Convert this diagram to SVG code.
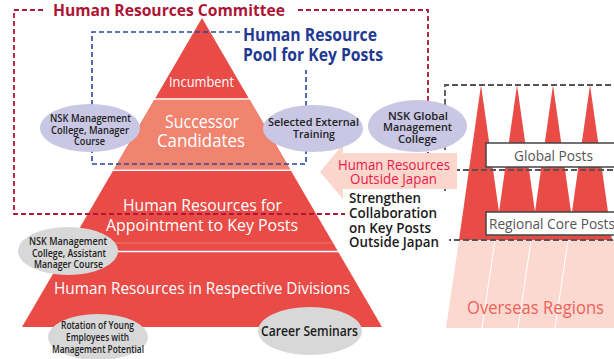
<svg xmlns="http://www.w3.org/2000/svg" width="614" height="359" viewBox="0 0 614 359">
<style>
text{font-family:"Open Sans","Noto Sans","Liberation Sans",sans-serif}
.w{fill:#ffffff}
.el{fill:#222222;font-size:10.5px;font-weight:600}
.lav{fill:#c9c7e4}
.gry{fill:#d8d8d8}
.red{fill:#e94b47}
.dr{fill:none;stroke:#b0163a;stroke-width:1.8;stroke-dasharray:5 3}
.db{fill:none;stroke:#2a469e;stroke-width:1.6;stroke-dasharray:5 3}
.dg{fill:none;stroke:#555555;stroke-width:1.8;stroke-dasharray:6 3}
.box{fill:#ffffff;stroke:#444444;stroke-width:1.5}
.post{fill:#555555;font-size:14.5px}
</style>
<g id="pyramid">
<polygon class="red" points="202,18 382,327 22,327"/>
<polygon fill="#f0846f" points="154.2,100 249.8,100 290.2,169.4 113.8,169.4"/>
<line x1="150" y1="99" x2="254" y2="99" stroke="#ffffff" stroke-width="1.5"/>
<line x1="110" y1="170.3" x2="294" y2="170.3" stroke="#ffffff" stroke-width="1.5"/>
<line x1="70.5" y1="243" x2="333.5" y2="243" stroke="#f27a6e" stroke-width="1"/>
<line x1="62" y1="251.5" x2="342" y2="251.5" stroke="#ffffff" stroke-width="1.3"/>
</g>
<g id="overseas">
<polygon fill="#fbd9d0" points="459,240 614,240 614,328 446,328"/>
<polygon class="red" points="481,85 503,240 459,240"/>
<polygon class="red" points="517,85 539,240 495,240"/>
<polygon class="red" points="553,85 575,240 531,240"/>
<polygon class="red" points="590,85 612,240 568,240"/>
<line x1="495" y1="240" x2="482" y2="328" stroke="#ffffff" stroke-width="1"/>
<line x1="531" y1="240" x2="518" y2="328" stroke="#ffffff" stroke-width="1"/>
<line x1="568" y1="240" x2="555" y2="328" stroke="#ffffff" stroke-width="1"/>
</g>
<g id="connectors">
<path class="dr" d="M43,10 H14 V214 H428 V10 H295"/>
<path class="db" d="M240,32 H92 V164 H306 V70"/>
<path class="dg" d="M445,240 V85 H614"/>
<path class="dg" d="M445,170 H614"/>
<path class="dg" d="M445,240 H614"/>
</g>
<g id="posts">
<rect class="box" x="486" y="143" width="140" height="24"/>
<text class="post" x="553.5" y="161" text-anchor="middle" textLength="79" lengthAdjust="spacingAndGlyphs">Global Posts</text>
<rect class="box" x="486" y="212" width="140" height="23"/>
<text class="post" x="489" y="229" textLength="126" lengthAdjust="spacingAndGlyphs">Regional Core Posts</text>
<text x="535.5" y="314" text-anchor="middle" fill="#f0625a" font-size="17.5" textLength="137" lengthAdjust="spacingAndGlyphs">Overseas Regions</text>
</g>
<g id="strengthen">
<rect x="345" y="191" width="104" height="65" fill="#ffffff"/>
<g fill="#1a1a1a" font-size="14.5" font-weight="600">
<text x="349" y="203" textLength="72" lengthAdjust="spacingAndGlyphs">Strengthen</text>
<text x="349" y="218" textLength="88" lengthAdjust="spacingAndGlyphs">Collaboration</text>
<text x="349" y="232.5" textLength="82" lengthAdjust="spacingAndGlyphs">on Key Posts</text>
<text x="349" y="247" textLength="90" lengthAdjust="spacingAndGlyphs">Outside Japan</text>
</g>
</g>
<g id="arrow">
<polygon fill="#fbd6cc" points="320,172 343,144 343,153 457,153 457,189 343,189 343,199"/>
<g fill="#e8194a" font-size="14" text-anchor="middle">
<text x="394" y="169.5" textLength="112" lengthAdjust="spacingAndGlyphs">Human Resources</text>
<text x="393.5" y="183.5" textLength="87" lengthAdjust="spacingAndGlyphs">Outside Japan</text>
</g>
</g>
<g id="titles">
<text x="169" y="15.5" text-anchor="middle" fill="#ae1535" font-size="16.5" font-weight="700" textLength="232" lengthAdjust="spacingAndGlyphs">Human Resources Committee</text>
<text x="243" y="41" fill="#1f3a93" font-size="17" font-weight="700" textLength="134" lengthAdjust="spacingAndGlyphs">Human Resource</text>
<text x="243" y="61" fill="#1f3a93" font-size="17" font-weight="700" textLength="140" lengthAdjust="spacingAndGlyphs">Pool for Key Posts</text>
</g>
<g id="levels" class="w" text-anchor="middle">
<text x="201.5" y="87" font-size="14.5" textLength="65" lengthAdjust="spacingAndGlyphs">Incumbent</text>
<text x="202" y="128" font-size="18" textLength="74" lengthAdjust="spacingAndGlyphs">Successor</text>
<text x="201" y="147" font-size="18" textLength="88" lengthAdjust="spacingAndGlyphs">Candidates</text>
<text x="202.5" y="211" font-size="17" textLength="159" lengthAdjust="spacingAndGlyphs">Human Resources for</text>
<text x="202" y="230.5" font-size="17" textLength="192" lengthAdjust="spacingAndGlyphs">Appointment to Key Posts</text>
<text x="202" y="294" font-size="16.5" textLength="296" lengthAdjust="spacingAndGlyphs">Human Resources in Respective Divisions</text>
</g>
<g id="e1">
<ellipse class="lav" cx="90" cy="128" rx="50" ry="24"/>
<text class="el" text-anchor="middle"><tspan x="90.5" y="122" textLength="81" lengthAdjust="spacingAndGlyphs">NSK Management</tspan><tspan x="90" y="133.5" textLength="78" lengthAdjust="spacingAndGlyphs">College, Manager</tspan><tspan x="89.5" y="145" textLength="31" lengthAdjust="spacingAndGlyphs">Course</tspan></text>
</g>
<g id="e2">
<ellipse class="lav" cx="313" cy="128.5" rx="50" ry="23.5"/>
<text class="el" text-anchor="middle"><tspan x="313.5" y="126" textLength="91" lengthAdjust="spacingAndGlyphs">Selected External</tspan><tspan x="314" y="137.5" textLength="42" lengthAdjust="spacingAndGlyphs">Training</tspan></text>
</g>
<g id="e3">
<ellipse class="lav" cx="417.5" cy="126" rx="49.5" ry="26"/>
<text class="el" text-anchor="middle"><tspan x="418" y="120" textLength="60" lengthAdjust="spacingAndGlyphs">NSK Global</tspan><tspan x="417.5" y="131" textLength="69" lengthAdjust="spacingAndGlyphs">Management</tspan><tspan x="417.5" y="142.5" textLength="39" lengthAdjust="spacingAndGlyphs">College</tspan></text>
</g>
<g id="e4">
<ellipse class="gry" cx="68" cy="251" rx="50" ry="24"/>
<text class="el" text-anchor="middle"><tspan x="68" y="245" textLength="78" lengthAdjust="spacingAndGlyphs">NSK Management</tspan><tspan x="69" y="256.5" textLength="74" lengthAdjust="spacingAndGlyphs">College, Assistant</tspan><tspan x="68.5" y="267.5" textLength="69" lengthAdjust="spacingAndGlyphs">Manager Course</tspan></text>
</g>
<g id="e5">
<ellipse class="gry" cx="98" cy="337" rx="50" ry="23"/>
<text class="el" text-anchor="middle"><tspan x="97.5" y="329" textLength="73" lengthAdjust="spacingAndGlyphs">Rotation of Young</tspan><tspan x="97.5" y="341" textLength="63" lengthAdjust="spacingAndGlyphs">Employees with</tspan><tspan x="98" y="352.5" textLength="92" lengthAdjust="spacingAndGlyphs">Management Potential</tspan></text>
</g>
<g id="e6">
<ellipse class="gry" cx="310" cy="331" rx="52" ry="24"/>
<text x="309.5" y="336" text-anchor="middle" fill="#1a1a1a" font-size="13.5" font-weight="600" textLength="97" lengthAdjust="spacingAndGlyphs">Career Seminars</text>
</g>
</svg>
